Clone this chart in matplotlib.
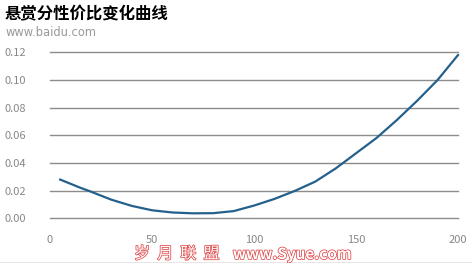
import matplotlib
matplotlib.use('Agg')
import matplotlib.pyplot as plt
import matplotlib.patheffects as pe
from matplotlib.lines import Line2D

plt.rcParams['font.family'] = ['Noto Sans CJK SC', 'DejaVu Sans']

# reward value vs. cost-performance ratio
xs = [5, 10, 15, 20, 30, 40, 50, 60, 70, 80, 90, 100,
      110, 120, 130, 140, 150, 160, 170, 180, 190, 200]
ys = [0.028, 0.025, 0.022, 0.0193, 0.0135, 0.009, 0.0058, 0.0042, 0.0036, 0.0037, 0.0052, 0.0092,
      0.014, 0.0198, 0.0265, 0.036, 0.047, 0.058, 0.071, 0.085, 0.100, 0.118]
x_ticks = [0, 50, 100, 150, 200]
y_ticks = [0.00, 0.02, 0.04, 0.06, 0.08, 0.10, 0.12]

fig = plt.figure(figsize=(4.76, 2.63), dpi=100)
ax = fig.add_axes([50 / 476, 1 - 218.3 / 263, 408 / 476, 166 / 263])

ax.plot(xs, ys, color='#24608c', linewidth=1.6, clip_on=False, zorder=3)

ax.set_xlim(0, 200)
ax.set_ylim(0, 0.12)
ax.set_xticks(x_ticks)
ax.set_yticks(y_ticks)
ax.set_yticklabels(['%.2f' % v for v in y_ticks])
ax.grid(True, axis='y', color='#8c8c8c', linewidth=1)
for gl in ax.get_ygridlines():
    gl.set_clip_on(False)
ax.set_axisbelow(True)
for s in ax.spines.values():
    s.set_visible(False)
ax.tick_params(length=0, colors='#888888', labelsize=8)
ax.tick_params(axis='x', pad=12)
ax.tick_params(axis='y', pad=17)

fig.text(5 / 476, 1 - 14 / 263, '悬赏分性价比变化曲线', fontsize=11.8,
         fontweight='heavy', color='black', va='center')
fig.text(6 / 476, 1 - 33 / 263, 'www.baidu.com', fontsize=8.3,
         color='#999999', va='center', family='DejaVu Sans')

wm = [pe.withStroke(linewidth=1.1, foreground='#e04848')]
fig.text(177 / 476, 1 - 254 / 263, '岁  月  联  盟', fontsize=11.5,
         color='white', ha='center', va='center', path_effects=wm)
fig.text(292 / 476, 1 - 254 / 263, 'www.Syue.com', fontsize=11,
         color='white', ha='center', va='center', fontweight='bold',
         path_effects=wm)
fig.add_artist(Line2D([0, 0.99], [0.5 / 263, 0.5 / 263], color='#888888', linewidth=1))

fig.savefig('out.png', dpi=100)
